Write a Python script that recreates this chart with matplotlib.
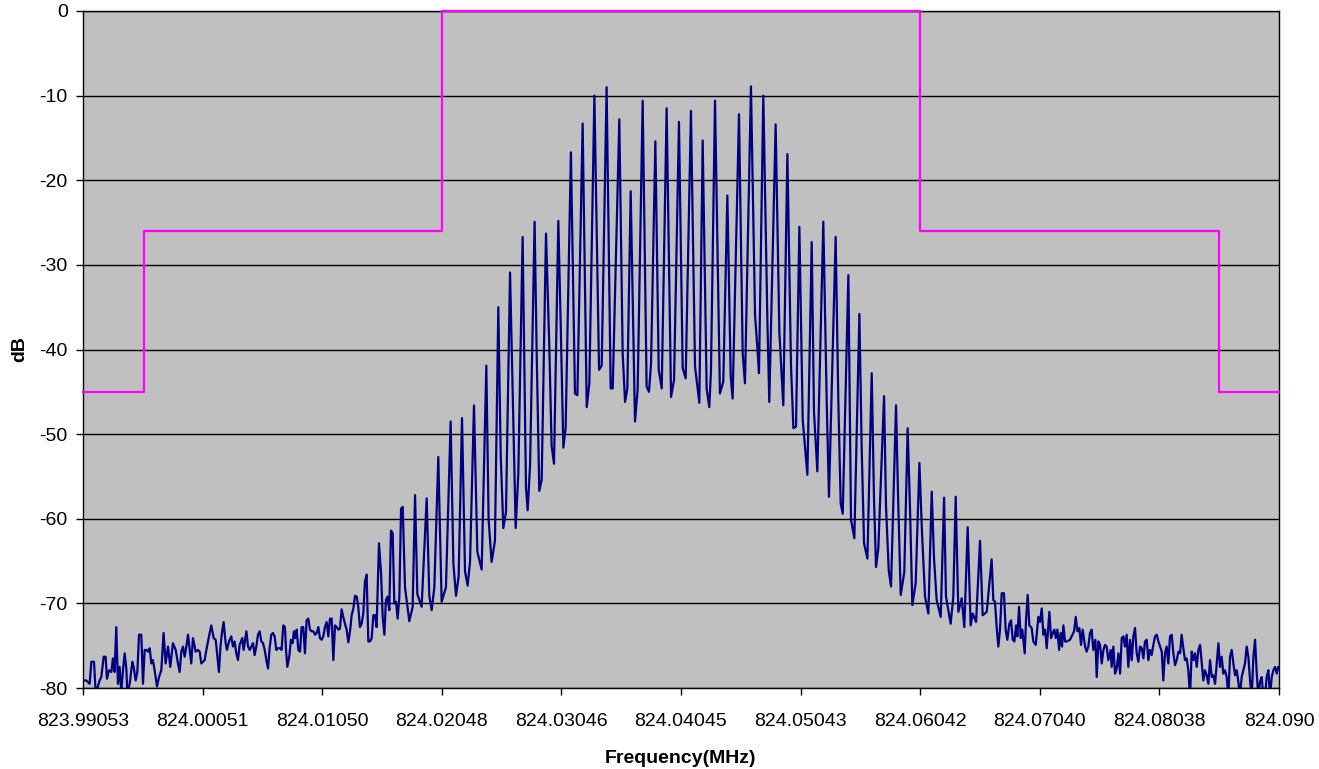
import numpy as np
import matplotlib
matplotlib.use("Agg")
import matplotlib.pyplot as plt

plt.rcParams['font.family'] = ['Liberation Sans', 'DejaVu Sans']
plt.rcParams['axes.unicode_minus'] = False

# sweep start (MHz); trace positions below are offsets from it in kHz
F_START = 823.99053

# noise floor, left of the comb
left_khz = [0.00, 0.28, 0.56, 0.70, 0.92, 1.06, 1.25, 1.39, 1.53, 1.73, 1.89, 2.00, 2.17, 2.37,
            2.50, 2.64, 2.78, 2.92, 3.06, 3.20, 3.34, 3.48, 3.62, 3.70, 3.90, 4.12, 4.23, 4.40,
            4.54, 4.68, 4.87, 5.01, 5.15, 5.29, 5.43, 5.57, 5.71, 5.84, 5.98, 6.18, 6.35, 6.54,
            6.73, 6.90, 7.10, 7.29, 7.51, 7.74, 7.93, 8.07, 8.21, 8.35, 8.49, 8.63, 8.77, 8.91,
            9.04, 9.18, 9.41, 9.60, 9.74, 9.88, 10.02, 10.16, 10.30, 10.52, 10.71, 10.91, 11.08,
            11.19, 11.35, 11.49, 11.60, 11.74, 11.91, 12.02, 12.19, 12.38, 12.52, 12.66, 12.80,
            12.94, 13.08, 13.30, 13.41, 13.64, 13.78, 13.92, 14.05, 14.19, 14.33, 14.47, 14.61,
            14.75, 14.89, 15.03, 15.17, 15.31, 15.45, 15.58, 15.72, 15.86, 16.00, 16.14, 16.28,
            16.45, 16.58, 16.72, 16.86, 16.95, 17.06, 17.22, 17.36, 17.50, 17.61, 17.72, 17.84,
            17.98, 18.12, 18.25, 18.39, 18.53, 18.67, 18.81, 18.95, 19.09, 19.23, 19.37, 19.51,
            19.65, 19.78, 19.92, 20.06, 20.20, 20.34, 20.48, 20.62, 20.76, 20.90, 21.04, 21.18,
            21.31, 21.45]
left_db = [-79.1, -79.1, -79.5, -76.9, -76.9, -80.5, -79.8, -79.1, -78.7, -76.3, -76.3, -78.9,
           -77.9, -78.1, -76.5, -78.1, -72.8, -79.5, -77.5, -80.5, -77.9, -75.9, -77.7, -80.5,
           -79.5, -76.9, -77.5, -79.1, -78.1, -73.7, -73.7, -79.5, -75.5, -75.5, -75.7, -75.3,
           -77.1, -76.7, -77.9, -79.8, -78.7, -77.9, -73.5, -77.1, -75.1, -77.5, -74.7, -75.5,
           -77.1, -78.1, -75.7, -75.1, -76.3, -75.1, -73.7, -75.5, -77.1, -74.1, -75.7, -75.5,
           -75.7, -77.1, -76.9, -76.7, -75.5, -73.9, -72.6, -74.1, -74.3, -75.9, -78.1, -74.9,
           -73.5, -72.2, -74.7, -75.5, -74.5, -73.9, -75.1, -74.5, -75.9, -76.7, -74.9, -74.1,
           -75.5, -73.3, -75.1, -75.5, -75.1, -74.7, -76.1, -75.1, -73.7, -73.3, -74.5, -74.7,
           -75.5, -76.7, -77.7, -75.3, -73.7, -73.5, -73.9, -75.5, -75.3,
           -75.3, -75.5, -72.6, -72.8, -75.5, -77.5, -76.3, -74.3, -74.7, -73.3, -74.1, -73.1,
           -75.5, -75.7, -72.8, -72.8, -75.9, -72.0, -71.8, -73.1, -73.3, -73.3, -73.7, -73.5,
           -72.8, -74.1, -74.3, -73.9, -72.8, -72.2, -73.9, -71.8, -71.8, -76.7, -72.6, -72.8,
           -73.1, -73.0]

# spectral line comb
comb_khz = [21.59, 21.73, 21.87, 22.01, 22.15, 22.29, 22.43, 22.57, 22.71, 22.85, 22.98, 23.12,
            23.26, 23.40, 23.54, 23.68, 23.82, 23.96, 24.10, 24.24, 24.38, 24.51, 24.71, 24.88,
            25.02, 25.16, 25.29, 25.43, 25.57, 25.71, 25.85, 25.99, 26.13, 26.27, 26.41, 26.55,
            26.69, 26.88, 27.24, 27.52, 27.72, 27.91, 28.27, 28.69, 28.91, 29.11, 29.33, 29.66,
            29.94, 30.30, 30.69, 30.92, 31.14, 31.36, 31.64, 31.89, 32.11, 32.31, 32.64, 32.92,
            33.28, 33.67, 33.86, 34.11, 34.39, 34.67, 34.87, 35.09, 35.31, 35.65, 35.92, 36.12,
            36.34, 36.70, 36.98, 37.12, 37.32, 37.70, 37.87, 38.09, 38.29, 38.65, 38.93, 39.12,
            39.32, 39.68, 39.87, 40.10, 40.29, 40.73, 41.07, 41.27, 41.71, 42.05, 42.27, 42.69,
            43.08, 43.30, 43.71, 44.05, 44.22, 44.77, 45.05, 45.25, 45.44, 45.72, 46.08, 46.30,
            46.72, 47.05, 47.25, 47.42, 47.78, 48.06, 48.31, 48.72, 49.09, 49.34, 49.75, 50.06,
            50.31, 50.75, 51.09, 51.45, 51.73, 52.06, 52.28, 52.42, 52.76, 53.17, 53.45, 53.79,
            54.07, 54.23, 54.76, 55.07, 55.26, 55.76, 56.10, 56.29, 56.43, 56.79, 57.13, 57.29,
            57.82, 58.13, 58.46, 58.80, 59.10, 59.30, 59.52, 59.80, 60.08, 60.27, 60.47, 60.83,
            61.02, 61.30, 61.80, 62.08, 62.27, 62.83, 63.05, 63.25, 63.42, 63.89, 64.11, 64.39,
            64.81, 65.00, 65.20, 65.48, 65.84, 66.03, 66.20, 66.39, 66.87, 67.03, 67.26, 67.45,
            67.87, 68.04, 68.26, 68.56, 68.84, 69.04, 69.23, 69.51, 69.82, 70.04, 70.29, 70.57,
            70.85, 71.04, 71.26, 71.60, 71.88, 72.04, 72.43, 72.65, 72.85, 73.07, 73.35, 73.57,
            73.85, 74.10, 74.27, 74.55, 74.88, 75.10, 75.44, 75.85]
comb_db = [-70.7, -71.6, -72.4, -73.1, -74.6, -73.3, -71.4, -70.6, -69.1, -69.2, -70.4, -72.8,
           -72.4, -71.2, -67.4, -66.6, -74.5, -74.5, -74.1, -71.4, -71.4, -72.8, -62.9, -66.4,
           -71.6, -73.7, -69.6, -69.2, -70.8, -61.4, -61.7, -70.0, -69.8, -71.8, -69.2, -58.8,
           -58.6, -68.1, -72.1, -70.4, -57.2, -68.9, -70.4, -57.6, -69.1, -70.8, -68.1, -52.7,
           -69.8, -68.1, -48.5, -65.3, -69.1, -66.8, -48.1, -66.2, -67.9, -65.1, -46.6, -63.9,
           -66.0, -41.9, -60.1, -65.1, -62.6, -35.0, -52.5, -61.1, -59.2, -30.9, -48.5, -61.1,
           -54.6, -26.7, -56.3, -59.0, -53.7, -24.9, -40.2, -56.7, -55.4, -26.3, -39.8, -51.4,
           -53.5, -24.8, -36.6, -51.6, -49.3, -16.7, -45.2, -45.4, -13.3, -46.8, -44.0, -10.0,
           -42.4, -41.9, -9.0, -44.6, -44.6, -12.8, -40.4, -46.2, -44.6, -21.3, -48.5, -44.8,
           -10.6, -44.4, -45.0, -41.6, -15.4, -42.4, -44.6, -11.5, -45.6, -43.6, -13.1, -42.2,
           -43.4, -11.8, -42.0, -46.3, -15.3, -44.6, -46.8, -42.6, -10.6, -45.2, -43.8, -21.8,
           -43.2, -45.8, -12.2, -40.5, -44.0, -8.9, -35.9, -39.7, -42.8, -10.0, -36.5, -46.2,
           -13.4, -37.9, -46.6, -16.9, -41.8, -49.3, -49.1, -25.5, -48.3, -51.5, -54.8, -27.3,
           -47.3, -54.4, -24.9, -46.0, -57.4, -26.7, -45.9, -58.2, -59.4, -31.2, -60.1, -62.3,
           -35.8, -51.5, -62.9, -64.7, -42.8, -57.6, -65.7, -63.5, -45.5, -58.4, -66.1, -68.0,
           -46.6, -57.4, -69.0, -66.3, -49.3, -59.0, -70.2, -67.6, -53.4, -61.7, -69.2, -71.2,
           -56.8, -64.7, -69.6, -71.6, -57.5, -69.2, -72.4, -69.2, -57.4, -71.0, -69.4, -72.8,
           -61.0, -72.6, -71.2, -72.2, -62.6, -71.4, -71.0, -64.8]

# noise floor, right of the comb
right_khz = [75.99, 76.13, 76.27, 76.41, 76.55, 76.69, 76.88, 77.02, 77.16, 77.33, 77.47, 77.61,
             77.75, 77.89, 78.00, 78.14, 78.28, 78.41, 78.61, 78.72, 78.86, 79.00, 79.19, 79.33,
             79.53, 79.75, 79.89, 80.03, 80.17, 80.31, 80.45, 80.67, 80.81, 80.95, 81.09, 81.20,
             81.34, 81.48, 81.61, 81.73, 81.84, 81.98, 82.12, 82.39, 82.53, 82.73, 82.87, 83.01,
             83.17, 83.31, 83.45, 83.65, 83.78, 83.92, 84.06, 84.20, 84.34, 84.51, 84.62, 84.76,
             84.90, 85.04, 85.18, 85.31, 85.45, 85.59, 85.79, 85.87, 86.01, 86.15, 86.29, 86.43,
             86.57, 86.71, 86.85, 86.98, 87.12, 87.26, 87.40, 87.54, 87.68, 87.82, 87.96, 88.10,
             88.24, 88.38, 88.52, 88.65, 88.79, 88.93, 89.07, 89.21, 89.35, 89.49, 89.63, 89.77,
             89.91, 90.05, 90.18, 90.32, 90.46, 90.60, 90.74, 90.88, 91.02, 91.16, 91.30, 91.44,
             91.58, 91.71, 91.85, 91.99, 92.13, 92.27, 92.41, 92.55, 92.69, 92.83, 92.97, 93.11,
             93.25, 93.38, 93.52, 93.66, 93.80, 93.94, 94.08, 94.22, 94.36, 94.50, 94.64, 94.78,
             94.91, 95.05, 95.19, 95.33, 95.47, 95.61, 95.75, 95.89, 96.03, 96.17, 96.31, 96.45,
             96.58, 96.72, 96.86, 97.00, 97.14, 97.28, 97.42, 97.56, 97.70, 97.84, 97.98, 98.11,
             98.25, 98.39, 98.53, 98.67, 98.81, 98.95, 99.09, 99.23, 99.37, 99.51, 99.65, 99.78,
             99.84]
right_db = [-69.6, -69.8, -72.8, -75.1, -73.1, -68.8, -68.8, -73.1, -74.3, -72.4, -72.0, -74.3,
            -74.5, -72.6, -73.9, -70.4, -74.1, -73.1, -75.9, -72.0, -69.0, -72.6, -72.9, -74.5,
            -74.9, -71.6, -72.2, -70.6, -73.7, -73.1, -75.3, -71.0, -74.1, -73.5, -73.1, -74.1,
            -73.1, -75.5, -73.5, -75.1, -72.6, -74.5, -74.5, -74.3, -73.9, -73.3, -71.6, -73.3,
            -72.9, -74.9, -73.1, -75.1, -75.7, -75.1, -73.5, -73.1, -75.5, -74.3, -78.7, -74.5,
            -74.9, -77.1, -75.5, -74.9, -75.1, -76.7, -75.5, -77.5, -75.1, -78.3, -77.7, -75.9,
            -78.3, -74.1, -73.9, -75.1, -73.7, -77.5, -74.3, -76.7, -73.9, -72.9, -75.9, -76.9,
            -75.1, -75.3, -76.5, -74.5, -74.3, -76.7, -75.5, -76.1, -74.9, -73.9, -73.7, -74.5,
            -75.1, -75.7, -79.1, -75.9, -75.1, -77.1, -73.9, -73.7, -75.9, -77.3, -76.7, -75.7,
            -75.9, -73.7, -75.3, -76.7, -76.5, -77.9, -81.0, -75.7, -76.7, -75.9, -77.5, -75.5,
            -74.9, -76.9, -79.1, -77.9, -78.5, -79.5, -76.7, -78.7, -78.5, -79.5, -77.1, -74.7,
            -77.5, -76.3, -78.3, -77.9, -78.7, -81.0, -76.3, -75.5, -77.1, -78.5, -77.9, -79.3,
            -81.0, -78.7, -77.9, -77.1, -75.1, -76.3, -79.1, -81.0, -76.3, -74.3, -78.3, -81.0,
            -79.3, -78.7, -81.0, -81.0, -78.7, -77.9, -81.0, -78.7, -77.9, -77.5, -78.3, -77.5,
            -77.7]

# spectral mask (kHz offsets of the corners, limit in dB)
mask_khz = [0.0, 5.09, 5.09, 29.97, 29.97, 69.87, 69.87, 94.83, 94.83, 99.84]
mask_db = [-45, -45, -26, -26, 0, 0, -26, -26, -45, -45]

tick_freqs = [823.99053, 824.00051, 824.01050, 824.02048, 824.03046, 824.04045,
              824.05043, 824.06042, 824.07040, 824.08038, 824.09037]
tick_labels = ['823.99053', '824.00051', '824.01050', '824.02048', '824.03046', '824.04045',
               '824.05043', '824.06042', '824.07040', '824.08038', '824.090']

trace_f = F_START + np.array(left_khz + comb_khz + right_khz) / 1000.0
trace_db = np.array(left_db + comb_db + right_db)
mask_f = F_START + np.array(mask_khz) / 1000.0

fig = plt.figure(figsize=(13.19, 7.69), dpi=100)
ax = fig.add_axes([0.0629, 0.1053, 0.9068, 0.8804])
ax.set_facecolor('#C0C0C0')

ax.plot(trace_f, trace_db, color='#000080', lw=1.6, zorder=3)
ax.plot(mask_f, mask_db, color='#FF00FF', lw=1.6, zorder=4, clip_on=False)

ax.set_xlim(tick_freqs[0], tick_freqs[-1])
ax.set_ylim(-80, 0)
ax.set_yticks(np.arange(-80, 1, 10))
ax.set_xticks(tick_freqs)
ax.set_xticklabels(tick_labels)
ax.yaxis.grid(True, color='black', lw=1.0)
ax.set_axisbelow(True)
ax.tick_params(axis='both', direction='out', length=5, width=1, labelsize=14, colors='black')
ax.tick_params(axis='x', pad=13)
ax.tick_params(axis='y', pad=6)
for s in ax.spines.values():
    s.set_color('black')
    s.set_linewidth(1)

ax.set_xlabel('Frequency(MHz)', fontsize=14, fontweight='bold', va='center')
ax.set_ylabel('dB', fontsize=14, fontweight='bold', va='center')
ax.xaxis.set_label_coords(0.5, -0.1034)
ax.yaxis.set_label_coords(-0.0527, 0.5)

fig.savefig('out.png', dpi=100)
